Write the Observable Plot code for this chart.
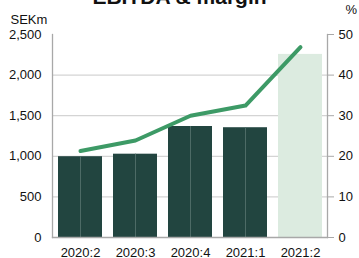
<!DOCTYPE html>
<html><head><meta charset="utf-8">
<script src="https://cdn.jsdelivr.net/npm/d3@7"></script>
<script src="https://cdn.jsdelivr.net/npm/@observablehq/plot@0.6"></script>
<style>
body{margin:0;background:#fff;}
#wrap{position:relative;width:359px;height:258px;overflow:hidden;font-family:"Liberation Sans",Arial,sans-serif;}
#title{position:absolute;left:0;width:359px;top:-14px;text-align:center;font-weight:bold;font-size:21px;line-height:21px;color:#111;}
</style></head>
<body><div id="wrap">
<div id="title">EBITDA &amp; margin</div>
</div>
<script>
const periods = ["2020:2","2020:3","2020:4","2021:1","2021:2"];
const ebitda = [995, 1026, 1367, 1352, 2255];
const margin = [21.3, 23.9, 30.0, 32.5, 46.9];
const leftTicks = [0, 500, 1000, 1500, 2000, 2500];
const rightTicks = [0, 10, 20, 30, 40, 50];
const forecast = ["2021:2"];
const leftUnit = "SEKm";
const rightUnit = "%";

const data = periods.map((p, i) => ({period: p, ebitda: ebitda[i], margin: margin[i], fc: forecast.includes(p)}));
const k = 2500 / 50;

const chart = Plot.plot({
  width: 359, height: 258,
  marginTop: 34, marginBottom: 21, marginLeft: 52, marginRight: 32,
  style: {fontFamily: "Liberation Sans, Arial, sans-serif", fontSize: "13px", color: "#111", background: "transparent", overflow: "visible"},
  x: {domain: periods, paddingInner: 0.2, paddingOuter: 0.1, label: null},
  y: {domain: [0, 2500], label: null},
  marks: [
    Plot.gridY(leftTicks.filter(t => t > 0 && t < 2500), {stroke: "#d4d4d4", strokeOpacity: 1, strokeWidth: 1.3}),
    Plot.barY(data, {x: "period", y: "ebitda", fill: d => d.fc ? "#dcebe0" : "#224540"}),
    Plot.ruleX(data.filter(d => !d.fc), {x: "period", y1: 0, y2: "ebitda", stroke: "#4d6b66", strokeWidth: 1}),
    Plot.frame({anchor: "left", stroke: "#a8a8a8", strokeWidth: 1.3}),
    Plot.frame({anchor: "right", stroke: "#a8a8a8", strokeWidth: 1.3}),
    Plot.frame({anchor: "bottom", stroke: "#a8a8a8", strokeWidth: 1.3}),
    Plot.axisY(leftTicks, {anchor: "left", tickSize: 0, tickPadding: 11, tickFormat: d3.format(","), label: null, fontSize: 13}),
    Plot.axisY(rightTicks.map(t => t * k), {anchor: "right", tickSize: 6, tickPadding: 5, stroke: "#a8a8a8", tickFormat: d => d / k, label: null, fontSize: 13}),
    Plot.axisX({tickSize: 0, tickPadding: 10, label: null, fontSize: 13}),
    Plot.line(data, {x: "period", y: d => d.margin * k, stroke: "#3d9a66", strokeWidth: 4, strokeLinecap: "round", strokeLinejoin: "round"}),
    Plot.text([leftUnit], {frameAnchor: "top-left", lineAnchor: "middle", text: d => d, textAnchor: "start", dx: -42, dy: -15, fontSize: 13, fill: "#111"}),
    Plot.text([rightUnit], {frameAnchor: "top-right", lineAnchor: "middle", text: d => d, textAnchor: "start", dx: 18, dy: -25, fontSize: 13, fill: "#111"})
  ]
});
chart.style.position = "absolute";
chart.style.left = "0";
chart.style.top = "0";
document.getElementById("wrap").appendChild(chart);
</script>
</body></html>
